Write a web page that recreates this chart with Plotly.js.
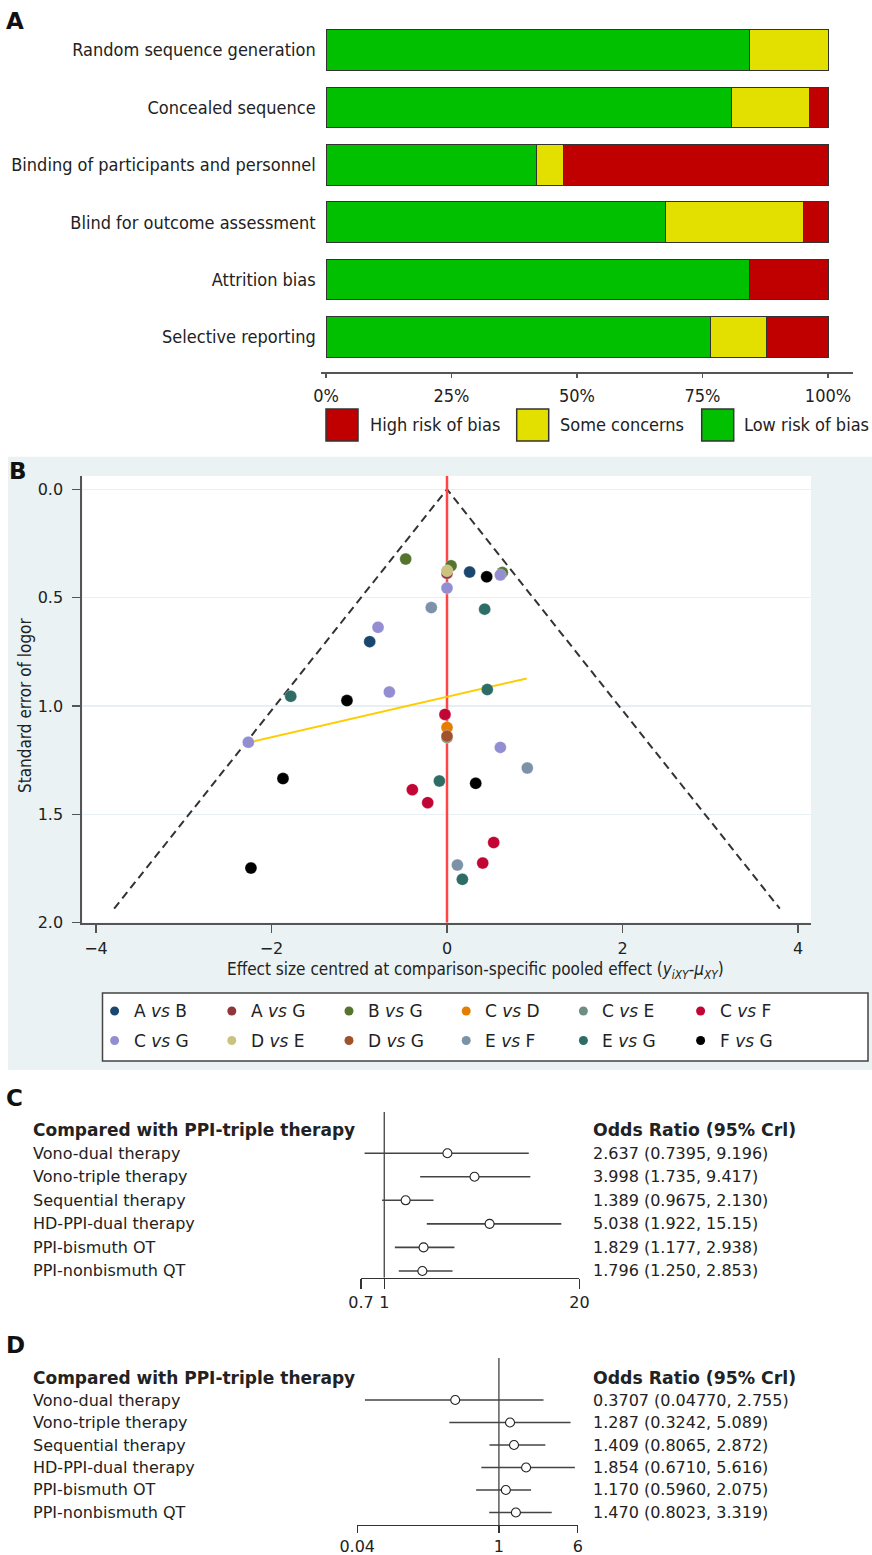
<!DOCTYPE html>
<html><head><meta charset="utf-8">
<script src="https://cdn.plot.ly/plotly-3.0.1.min.js"></script>
<style>html,body{margin:0;padding:0;background:#fff}#chart{width:872px;height:1555px}</style>
</head><body><div id="chart"></div>
<script>
// ---------- Panel A data ----------
const biasDomains = ["Random sequence generation","Concealed sequence","Binding of participants and personnel","Blind for outcome assessment","Attrition bias","Selective reporting"];
const lowRisk = [84.4, 80.8, 42.0, 67.6, 84.4, 76.5];
const someConcerns = [15.6, 15.6, 5.3, 27.6, 0, 11.2];
const highRisk = [0, 3.6, 52.7, 4.8, 15.6, 12.3];
const riskLabels = ["High risk of bias","Some concerns","Low risk of bias"];
const riskColors = ["#c00000","#e3e000","#00c000"];
const pctTicks = [0,25,50,75,100];

// ---------- Panel B data ----------
const comparisons = ["A <i>vs</i> B","A <i>vs</i> G","B <i>vs</i> G","C <i>vs</i> D","C <i>vs</i> E","C <i>vs</i> F","C <i>vs</i> G","D <i>vs</i> E","D <i>vs</i> G","E <i>vs</i> F","E <i>vs</i> G","F <i>vs</i> G"];
const compColors = ["#1a476f","#90353b","#55752f","#e37e00","#6e8e84","#c10534","#938dd2","#cac27e","#a0522d","#7b92a8","#2d6d66","#000000"];
const ptGroup  = [0,0, 1, 2,2,2, 3, 4, 5,5,5,5,5, 6,6,6,6,6,6, 7, 8, 9,9,9, 10,10,10,10,10, 11,11,11,11,11];
const ptEffect = [0.258,-0.881, 0.0, -0.471,0.046,0.630, 0.0, 0.0, -0.023,-0.395,-0.220,0.532,0.407, 0.608,0.0,-0.786,-0.657,-2.264,0.608, 0.0, 0.0, -0.179,0.915,0.118, 0.429,-1.781,0.459,-0.087,0.175, 0.452,-1.140,-1.869,0.327,-2.234];
const ptSE     = [0.382,0.703, 0.387, 0.322,0.353,0.384, 1.099, 1.145, 1.039,1.386,1.446,1.630,1.725, 0.395,0.456,0.637,0.935,1.167,1.191, 0.376, 1.139, 0.546,1.286,1.734, 0.553,0.955,0.924,1.346,1.800, 0.404,0.975,1.335,1.357,1.748];
const regX = [-2.264, 0.908];
const regY = [1.169, 0.873];
const funnelSE = [1.935, 0, 1.935];
const funnelSign = [-1, 0, 1];
const seTicks = [0, 0.5, 1, 1.5, 2];
const effTicks = [-4, -2, 0, 2, 4];

// ---------- Panels C & D data ----------
const therapies = ["Vono-dual therapy","Vono-triple therapy","Sequential therapy","HD-PPI-dual therapy","PPI-bismuth OT","PPI-nonbismuth QT"];
const orC = [2.637, 3.998, 1.389, 5.038, 1.829, 1.796];
const loC = [0.7395, 1.735, 0.9675, 1.922, 1.177, 1.250];
const hiC = [9.196, 9.417, 2.130, 15.15, 2.938, 2.853];
const orD = [0.3707, 1.287, 1.409, 1.854, 1.170, 1.470];
const loD = [0.04770, 0.3242, 0.8065, 0.6710, 0.5960, 0.8023];
const hiD = [2.755, 5.089, 2.872, 5.616, 2.075, 3.319];
const ticksC = [0.7, 1, 20];
const ticksD = [0.04, 1, 6];
const headLeft = "Compared with PPI-triple therapy";
const headRight = "Odds Ratio (95% Crl)";

// ---------- helpers ----------
const W = 872, H = 1555;
const px = p => p / W;
const py = p => 1 - p / H;
const TXT = '#222';
const COND = 'DejaVu Sans Condensed, DejaVu Sans';
const SANS = 'DejaVu Sans';

const traces = [];
const shapes = [];
const annotations = [];

// ---------- Panel A ----------
[[lowRisk, riskColors[2]], [someConcerns, riskColors[1]], [highRisk, riskColors[0]]].forEach(([vals, col]) => {
  traces.push({type:'bar', orientation:'h', x: vals, y: biasDomains, xaxis:'x', yaxis:'y',
    width: 0.704, marker:{color: col, line:{color:'#333', width:1}}, showlegend:false, hoverinfo:'skip'});
});
const legA = [[326, 368], [516.7, 558], [701.7, 742]];
riskLabels.forEach((lab, i) => {
  shapes.push({type:'rect', xref:'paper', yref:'paper', x0:px(legA[i][0]), x1:px(legA[i][0]+32), y0:py(441), y1:py(409),
    fillcolor: riskColors[i], line:{color:'#333', width:1.5}});
  annotations.push({xref:'paper', yref:'paper', x:px(legA[i][1]), y:py(425), xanchor:'left', yanchor:'middle',
    text: lab, showarrow:false, font:{family:COND, size:18, color:TXT}});
});

// ---------- Panel B ----------
const xRangeB = [-4.156, 4.148];
const yRangeB = [2.0, -0.0627];
shapes.push({type:'rect', xref:'paper', yref:'paper', x0:px(8), x1:1, y0:py(1070), y1:py(456.7),
  fillcolor:'#eaf2f3', line:{width:0}, layer:'below'});
shapes.push({type:'rect', xref:'x2', yref:'y2', x0:xRangeB[0], x1:xRangeB[1], y0:yRangeB[1], y1:yRangeB[0],
  fillcolor:'#ffffff', line:{width:0}, layer:'below'});
shapes.push({type:'rect', xref:'paper', yref:'paper', x0:px(102.5), x1:px(868), y0:py(1061), y1:py(993),
  fillcolor:'#ffffff', line:{color:'#444', width:1.5}, layer:'below'});

traces.push({type:'scatter', mode:'lines', x: funnelSE.map((s,i)=>funnelSign[i]*1.96*s), y: funnelSE,
  xaxis:'x2', yaxis:'y2', line:{color:'#333', width:2, dash:'8px,5px'}, showlegend:false, hoverinfo:'skip'});
traces.push({type:'scatter', mode:'lines', x:[0,0], y:[yRangeB[1], yRangeB[0]],
  xaxis:'x2', yaxis:'y2', line:{color:'#ff4646', width:2.5}, showlegend:false, hoverinfo:'skip'});
traces.push({type:'scatter', mode:'lines', x: regX, y: regY,
  xaxis:'x2', yaxis:'y2', line:{color:'#ffcc00', width:2}, showlegend:false, hoverinfo:'skip'});

comparisons.forEach((name, g) => {
  const xs = [], ys = [];
  ptGroup.forEach((gg, i) => { if (gg === g) { xs.push(ptEffect[i]); ys.push(ptSE[i]); } });
  traces.push({type:'scatter', mode:'markers', x: xs, y: ys, xaxis:'x2', yaxis:'y2', name: name,
    marker:{color: compColors[g], size: 12, line:{color:'rgba(255,255,255,0.5)', width:0.6}},
    showlegend:false, hoverinfo:'skip'});
});
// manual legend for panel B (6 columns x 2 rows)
comparisons.forEach((name, g) => {
  const col = g % 6, row = Math.floor(g / 6);
  const cx = 114.6 + col * 117.2, cy = 1011 + row * 29.5;
  shapes.push({type:'circle', xref:'paper', yref:'paper', x0:px(cx-4.5), x1:px(cx+4.5), y0:py(cy+4.5), y1:py(cy-4.5),
    fillcolor: compColors[g], line:{width:0}});
  annotations.push({xref:'paper', yref:'paper', x:px(cx+17), y:py(cy), xanchor:'left', yanchor:'middle', showarrow:false,
    text: name, font:{family:SANS, size:17, color:TXT}});
});

annotations.push({xref:'paper', yref:'paper', x:px(476), y:py(970), xanchor:'center', yanchor:'middle', showarrow:false,
  text:'Effect size centred at comparison-specific pooled effect (<i>y</i><sub><i>iXY</i></sub>-<i>μ</i><sub><i>XY</i></sub>)',
  font:{family:COND, size:17, color:TXT}});
annotations.push({xref:'paper', yref:'paper', x:px(25), y:py(706), xanchor:'center', yanchor:'middle', showarrow:false,
  textangle:-90, text:'Standard error of logor', font:{family:COND, size:17, color:TXT}});

// ---------- Panels C & D ----------
const fmt = v => v.toPrecision(4);
function forest(orv, lo, hi, xa, ya, headRow) {
  const rows = therapies.map((_, i) => i);
  traces.push({type:'scatter', mode:'markers', x: orv, y: rows, xaxis: xa, yaxis: ya,
    error_x:{type:'data', symmetric:false, array: hi.map((h,i)=>h-orv[i]), arrayminus: orv.map((o,i)=>o-lo[i]),
      width:0, thickness:1.6, color:'#444'},
    marker:{symbol:'circle', size:9, color:'#ffffff', line:{color:'#222', width:1.1}},
    showlegend:false, hoverinfo:'skip'});
  annotations.push({xref:'paper', yref: ya, x:px(30.5), y: headRow, xanchor:'left', yanchor:'middle', showarrow:false,
    text:'<b>'+headLeft+'</b>', font:{family:SANS, size:17, color:TXT}});
  annotations.push({xref:'paper', yref: ya, x:px(591), y: headRow, xanchor:'left', yanchor:'middle', showarrow:false,
    text:'<b>'+headRight+'</b>', font:{family:SANS, size:17.3, color:TXT}});
  therapies.forEach((t, i) => {
    annotations.push({xref:'paper', yref: ya, x:px(30.5), y: i, xanchor:'left', yanchor:'middle', showarrow:false,
      text: t, font:{family:SANS, size:16, color:TXT}});
    annotations.push({xref:'paper', yref: ya, x:px(591), y: i, xanchor:'left', yanchor:'middle', showarrow:false,
      text: fmt(orv[i]) + ' (' + fmt(lo[i]) + ', ' + fmt(hi[i]) + ')', font:{family:SANS, size:16, color:TXT}});
  });
}
const yRangeC = [5.286, -1.75];
const yRangeD = [5.556, -1.867];
forest(orC, loC, hiC, 'x3', 'y3', -1);
forest(orD, loD, hiD, 'x4', 'y4', -0.98);
shapes.push({type:'line', xref:'x3', yref:'y3', x0:1, x1:1, y0:yRangeC[1], y1:yRangeC[0], line:{color:'#333', width:1.2}, layer:'below'});
shapes.push({type:'line', xref:'x4', yref:'y4', x0:1, x1:1, y0:yRangeD[1], y1:yRangeD[0], line:{color:'#333', width:1.2}, layer:'below'});

// panel letters
[['A',15,21],['B',18,471],['C',14,1098],['D',15,1345]].forEach(([l,x,y]) => {
  annotations.push({xref:'paper', yref:'paper', x:px(x), y:py(y), xanchor:'center', yanchor:'middle', showarrow:false,
    text:'<b>'+l+'</b>', font:{family:SANS, size:23, color:'#111'}});
});

const layout = {
  width: W, height: H, margin:{l:0, r:0, t:0, b:0},
  paper_bgcolor:'#ffffff', plot_bgcolor:'rgba(0,0,0,0)',
  barmode:'stack', showlegend:false,
  font:{family:SANS, color:TXT},
  xaxis:{domain:[px(320.7), px(853)], range:[-1.056, 104.98], anchor:'y', tickmode:'array', tickvals: pctTicks,
    ticktext: pctTicks.map(v => v + '%'),
    ticks:'outside', ticklen:4, tickwidth:1.2, tickcolor:'#555', showline:true, linecolor:'#555', linewidth:1.5,
    showgrid:false, zeroline:false, tickfont:{family:COND, size:18, color:TXT}, ticklabelstandoff:3, fixedrange:true},
  yaxis:{domain:[py(372.3), py(21.3)], type:'category', range:[5.615, -0.5], anchor:'x', ticks:'', showline:false,
    showgrid:false, zeroline:false, tickfont:{family:COND, size:18, color:TXT}, ticklabelstandoff:4, fixedrange:true},
  xaxis2:{domain:[px(82.3), px(811)], range: xRangeB, anchor:'y2', tickvals: effTicks, ticks:'outside', ticklen:8,
    tickwidth:1.5, tickcolor:'#555', showline:true, linecolor:'#555', linewidth:2, showgrid:false, zeroline:false,
    tickfont:{family:SANS, size:16, color:TXT}, ticklabelstandoff:2},
  yaxis2:{domain:[py(922.7), py(475.7)], range: yRangeB, anchor:'x2', tickvals: seTicks, tickformat:'.1f', ticks:'outside',
    ticklen:8, tickwidth:1.5, tickcolor:'#555', showline:true, linecolor:'#555', linewidth:2, showgrid:true,
    gridcolor:'#e6eff1', gridwidth:1.5, zeroline:false, tickfont:{family:SANS, size:16, color:TXT}, ticklabelstandoff:6},
  xaxis3:{domain:[px(361), px(579.4)], type:'log', range:[Math.log10(0.7), Math.log10(20)], anchor:'y3',
    tickvals: ticksC, ticktext: ticksC.map(String), ticks:'outside', ticklen:10, tickwidth:1.2, tickcolor:'#333',
    showline:true, linecolor:'#333', linewidth:1.2, showgrid:false, zeroline:false,
    tickfont:{family:SANS, size:16, color:TXT}, ticklabelstandoff:0},
  yaxis3:{domain:[py(1277.7), py(1112)], range: yRangeC, anchor:'x3', visible:false},
  xaxis4:{domain:[px(357.2), px(577.8)], type:'log', range:[Math.log10(0.04), Math.log10(6)], anchor:'y4',
    tickvals: ticksD, ticktext: ticksD.map(String), ticks:'outside', ticklen:7, tickwidth:1.2, tickcolor:'#333',
    showline:true, linecolor:'#333', linewidth:1.2, showgrid:false, zeroline:false,
    tickfont:{family:SANS, size:16, color:TXT}, ticklabelstandoff:0},
  yaxis4:{domain:[py(1525), py(1358)], range: yRangeD, anchor:'x4', visible:false},
  shapes: shapes, annotations: annotations
};

Plotly.newPlot('chart', traces, layout, {displayModeBar:false, staticPlot:true});
</script></body></html>
